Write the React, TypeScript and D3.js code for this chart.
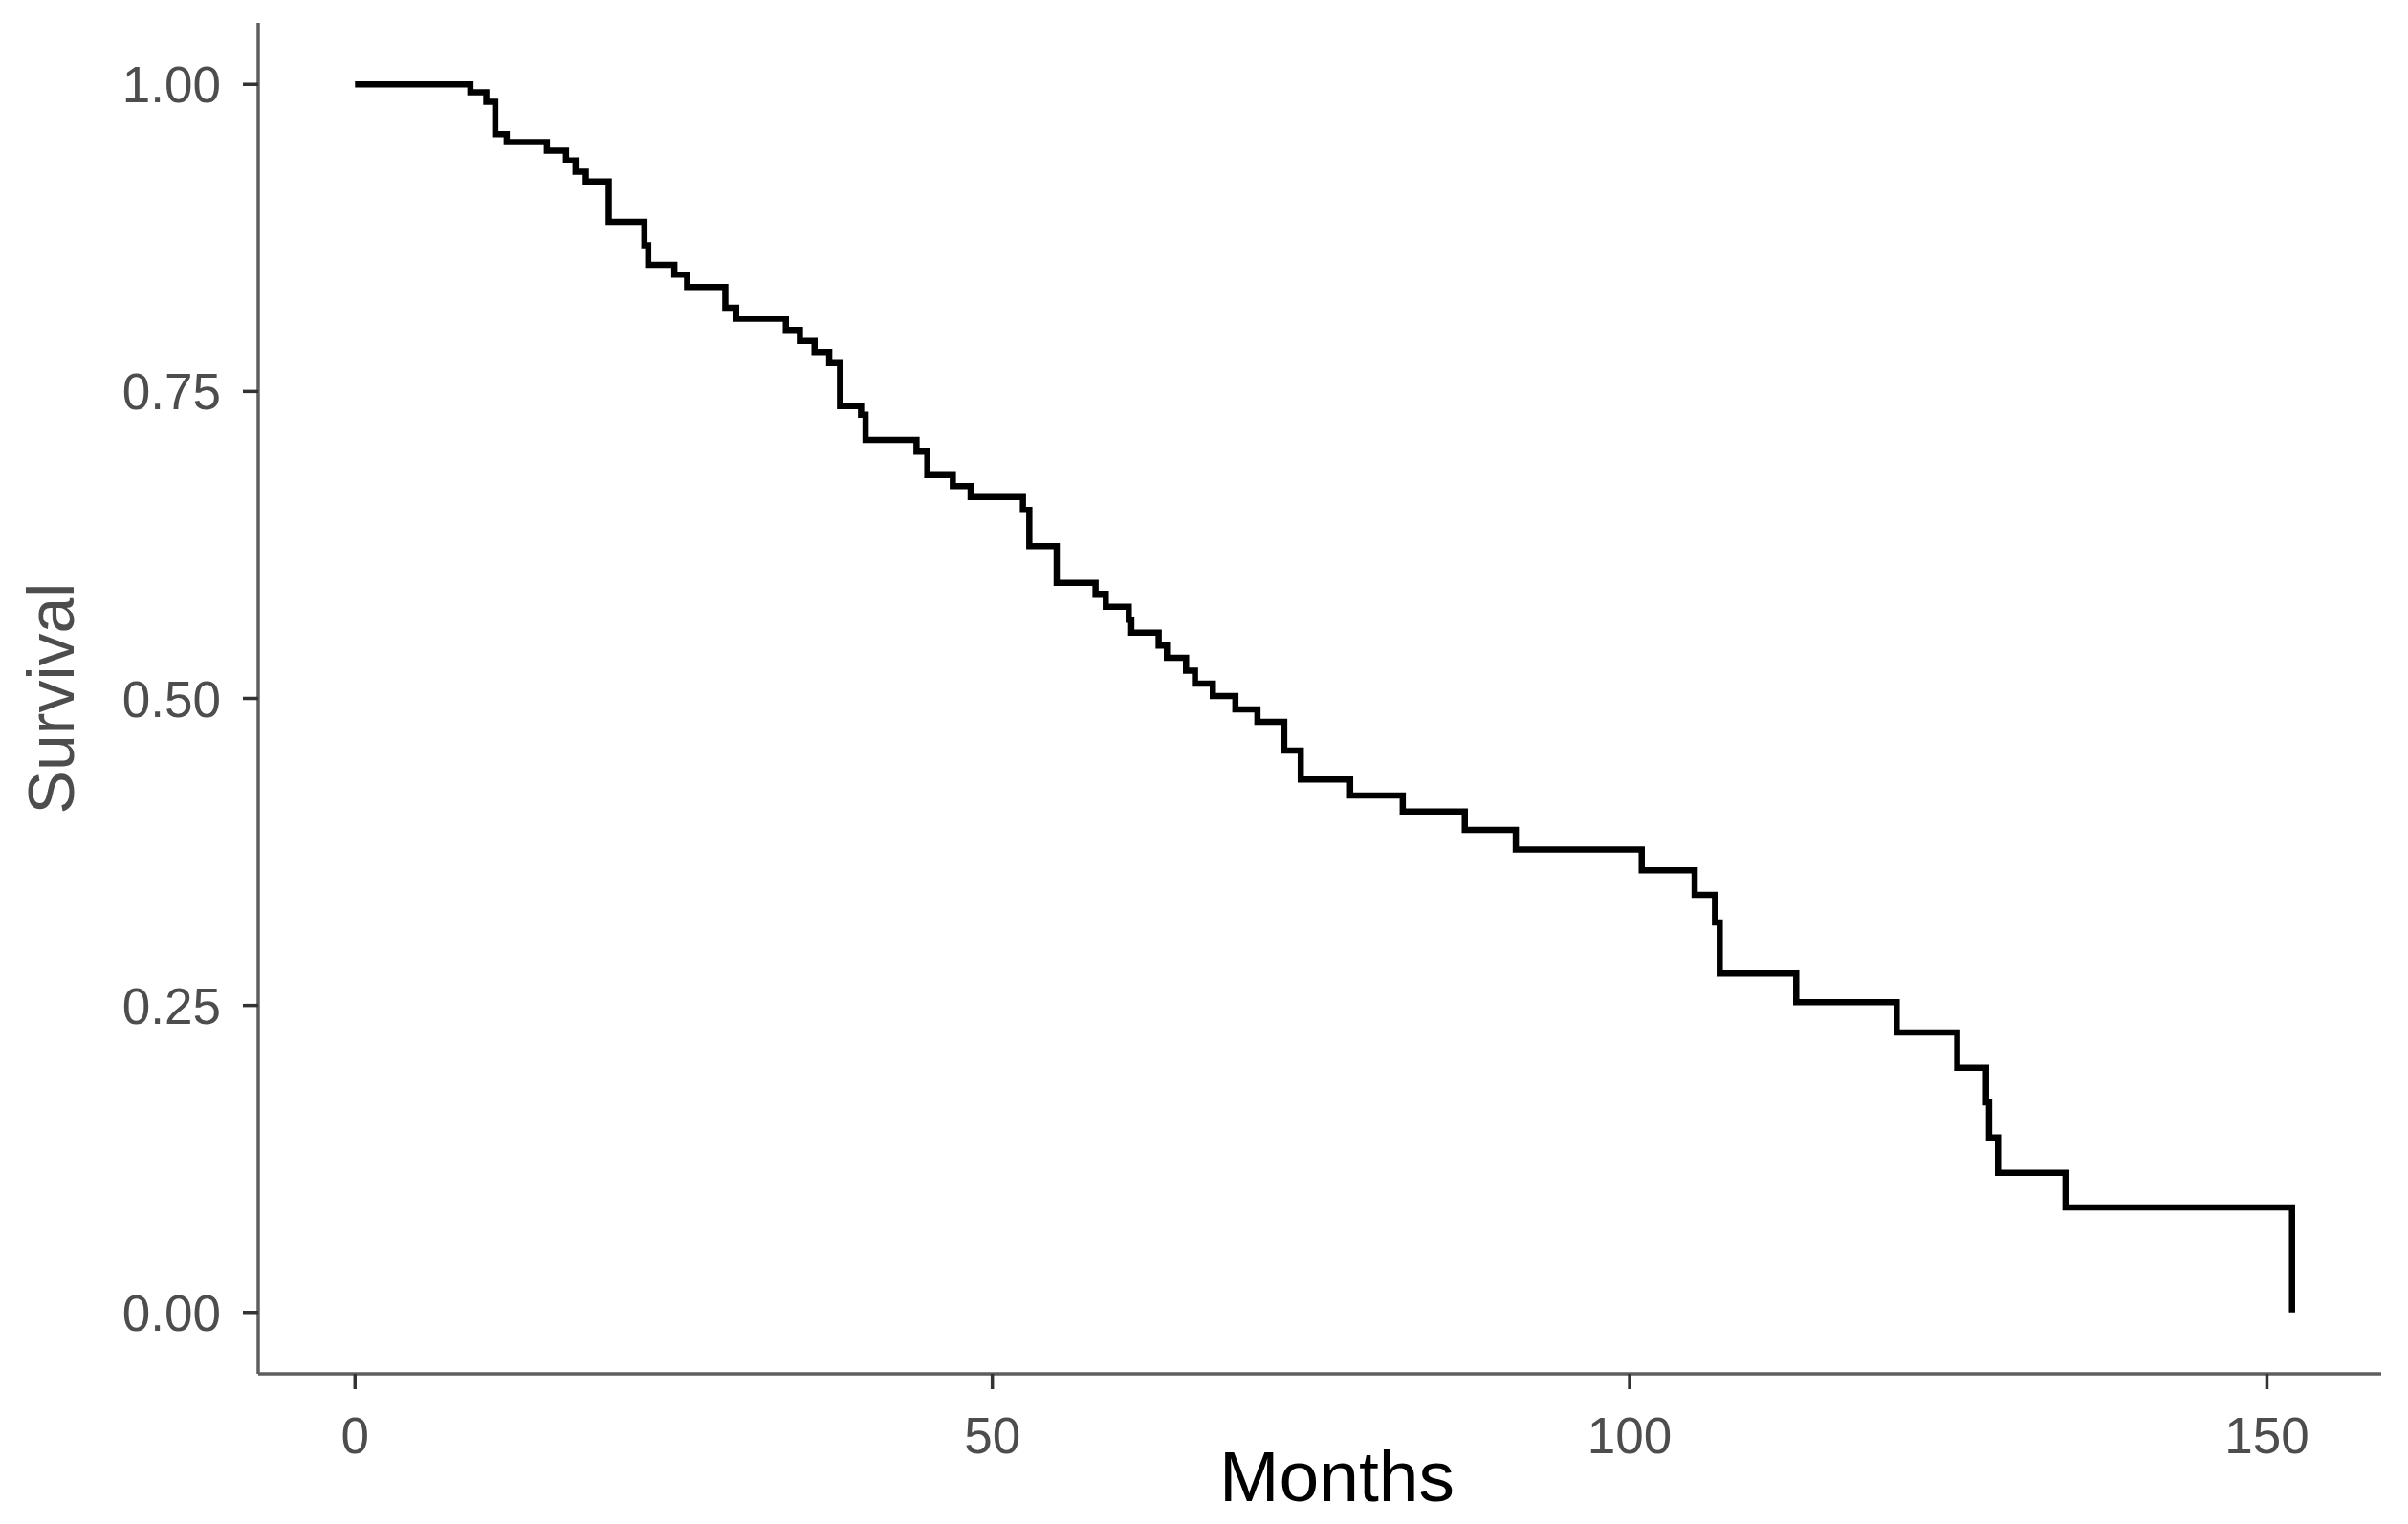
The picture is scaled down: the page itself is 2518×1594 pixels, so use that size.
import React, { useEffect } from "react";
import * as d3 from "d3";

// Kaplan-Meier step data: event times (months) and survival after each event
const eventTimes: number[] = [
  0, 9.05, 10.3, 11.0, 11.9, 15.05, 16.55, 17.3, 18.1, 19.9, 22.7, 23.0, 25.05, 26.05,
  29.05, 29.9, 33.8, 34.9, 36.05, 37.2, 38.05, 39.7, 40.05, 44.05, 44.9, 46.9, 48.3,
  52.4, 52.9, 55.05, 58.1, 58.9, 60.7, 60.9, 63.05, 63.7, 65.2, 65.9, 67.3, 69.07,
  70.8, 72.9, 74.2, 78.07, 82.2, 87.07, 91.07, 100.95, 105.1, 106.7, 107.07, 113.07,
  120.95, 125.7, 127.96, 128.2, 128.9, 134.2, 151.97,
];
const survivalValues: number[] = [
  1.0, 0.9935, 0.9857, 0.9595, 0.953, 0.946, 0.938, 0.929, 0.921, 0.888, 0.869, 0.853,
  0.845, 0.835, 0.818, 0.809, 0.8, 0.791, 0.782, 0.773, 0.738, 0.731, 0.7105, 0.701,
  0.682, 0.673, 0.664, 0.6535, 0.624, 0.594, 0.585, 0.5745, 0.564, 0.5535, 0.543,
  0.533, 0.5225, 0.512, 0.502, 0.491, 0.481, 0.4576, 0.434, 0.421, 0.408, 0.393,
  0.377, 0.36, 0.34, 0.3175, 0.276, 0.2527, 0.228, 0.1994, 0.171, 0.1424, 0.1137,
  0.0855, 0.0,
];
const xTicks: number[] = [0, 50, 100, 150];
const yTicks: number[] = [0, 0.25, 0.5, 0.75, 1.0];
const xTitle = "Months";
const yTitle = "Survival";

const W = 2518;
const H = 1594;
const FONT = "'Liberation Sans', Arial, Helvetica, sans-serif";

export default function App() {
  useEffect(() => {
    document.body.style.margin = "0";
  }, []);

  const left = 270;
  const right = 2498;
  const top = 24;
  const bottom = 1437;
  const axisEnd = 2490;

  const tMax = d3.max(eventTimes) as number;
  const xPad = tMax * 0.05;
  const x = d3.scaleLinear().domain([-xPad, tMax + xPad]).range([left, right]);
  const y = d3.scaleLinear().domain([-0.05, 1.05]).range([bottom, top]);

  const pts: [number, number][] = eventTimes.map((t, i) => [t, survivalValues[i]]);
  const line = d3
    .line<[number, number]>()
    .x((d) => x(d[0]))
    .y((d) => y(d[1]))
    .curve(d3.curveStepAfter);
  const path = line(pts) || "";

  return (
    <svg
      width={W}
      height={H}
      viewBox={`0 0 ${W} ${H}`}
      style={{ position: "absolute", left: 0, top: 0, background: "#fff" }}
    >
      <rect x={0} y={0} width={W} height={H} fill="#ffffff" />
      {/* axes lines */}
      <line x1={left} x2={left} y1={top} y2={bottom} stroke="#5e5e5e" strokeWidth={3.5} />
      <line x1={left} x2={axisEnd} y1={bottom} y2={bottom} stroke="#5e5e5e" strokeWidth={3.5} />
      {/* y ticks */}
      {yTicks.map((v) => (
        <g key={"y" + v}>
          <line x1={left - 16} x2={left} y1={y(v)} y2={y(v)} stroke="#333" strokeWidth={3.5} />
          <text
            x={231}
            y={y(v)}
            dy="0.36em"
            textAnchor="end"
            fontFamily={FONT}
            fontSize={53}
            fill="#4d4d4d"
          >
            {d3.format(".2f")(v)}
          </text>
        </g>
      ))}
      {/* x ticks */}
      {xTicks.map((v) => (
        <g key={"x" + v}>
          <line x1={x(v)} x2={x(v)} y1={bottom} y2={bottom + 16} stroke="#333" strokeWidth={3.5} />
          <text
            x={x(v)}
            y={1520}
            textAnchor="middle"
            fontFamily={FONT}
            fontSize={53}
            fill="#4d4d4d"
          >
            {v}
          </text>
        </g>
      ))}
      {/* curve */}
      <path d={path} fill="none" stroke="#000" strokeWidth={6.5} strokeLinejoin="miter" />
      {/* titles */}
      <text x={1398} y={1570} textAnchor="middle" fontFamily={FONT} fontSize={75} fill="#000">
        {xTitle}
      </text>
      <text
        transform={`translate(77, ${(top + bottom) / 2}) rotate(-90)`}
        textAnchor="middle"
        fontFamily={FONT}
        fontSize={68}
        fill="#4d4d4d"
      >
        {yTitle}
      </text>
    </svg>
  );
}
